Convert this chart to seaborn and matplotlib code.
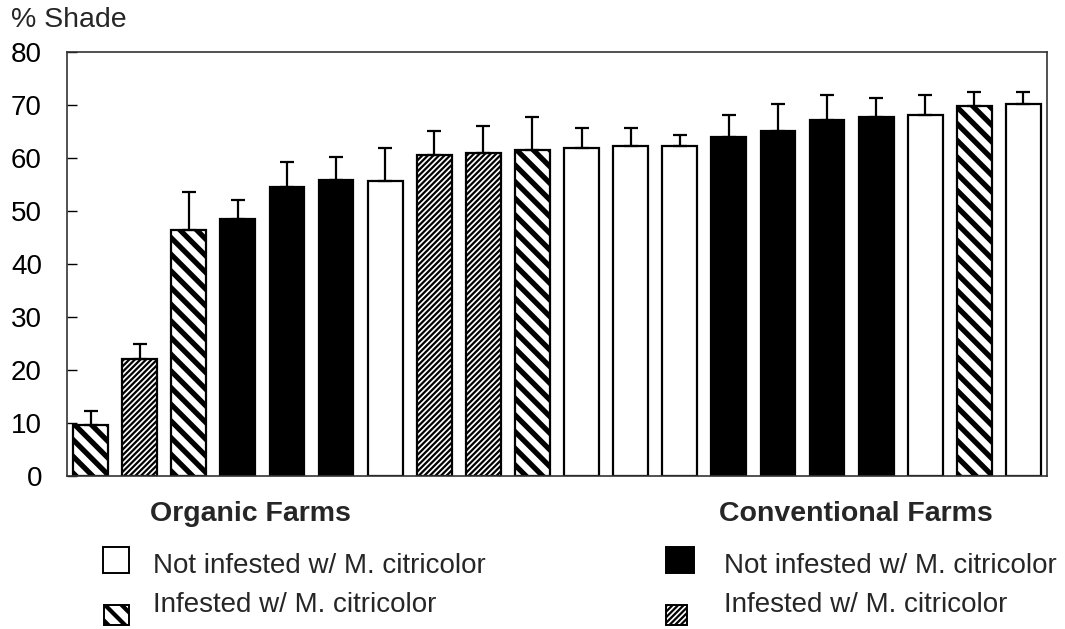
import matplotlib
matplotlib.use("Agg")
import matplotlib.pyplot as plt
import seaborn as sns
import numpy as np
import pandas as pd
from matplotlib.patches import Rectangle

# ---- data ----
farm_ids = list(range(1, 21))
shade_mean = [9.6, 22.1, 46.4, 48.4, 54.5, 55.8, 55.7, 60.5, 60.9, 61.6,
              61.9, 62.2, 62.2, 64.0, 65.0, 67.1, 67.7, 68.1, 69.8, 70.1]
shade_err_top = [12.3, 24.9, 53.5, 52.1, 59.2, 60.2, 61.9, 65.0, 66.0, 67.7,
                 65.7, 65.7, 64.3, 68.1, 70.1, 71.8, 71.4, 71.8, 72.5, 72.5]
# OU = organic not infested, OI = organic infested,
# CU = conventional not infested, CI = conventional infested
farm_group = ["OI", "CI", "OI", "CU", "CU", "CU", "OU", "CI", "CI", "OI",
              "OU", "OU", "OU", "CU", "CU", "CU", "CU", "OU", "OI", "OU"]
y_ticks = [0, 10, 20, 30, 40, 50, 60, 70, 80]
y_label = "% Shade"
legend_titles = ["Organic Farms", "Conventional Farms"]
legend_labels = ["Not infested w/ M. citricolor", "Infested w/ M. citricolor"]

styles = {
    "OU": dict(face="white", hatch="", hlw=1.0),
    "OI": dict(face="white", hatch="\\\\", hlw=3.8),
    "CU": dict(face="black", hatch="", hlw=1.0),
    "CI": dict(face="white", hatch="//////", hlw=1.6),
}

sns.set_style("white")
plt.rcParams["font.family"] = ["Liberation Sans", "DejaVu Sans"]

W, H = 1065, 629
fig = plt.figure(figsize=(W / 100, H / 100), dpi=100)
ax = fig.add_axes([67 / W, 1 - 476 / H, (1047 - 67) / W, (476 - 52) / H])

df = pd.DataFrame({"farm": farm_ids, "shade": shade_mean, "group": farm_group})
sns.barplot(data=df, x="farm", y="shade", color="white", width=0.71,
            edgecolor="black", linewidth=1.6, errorbar=None, ax=ax,
            order=farm_ids)

for patch, grp in zip(ax.patches, farm_group):
    st = styles[grp]
    patch.set_facecolor(st["face"])
    patch.set_edgecolor("black")
    patch.set_hatch(st["hatch"])
    try:
        patch.set_hatch_linewidth(st["hlw"])
    except AttributeError:
        pass

pos = np.arange(len(farm_ids))
upper = np.array(shade_err_top) - np.array(shade_mean)
ax.errorbar(pos, shade_mean, yerr=[np.zeros_like(upper), upper], fmt="none",
            ecolor="black", elinewidth=1.6, capsize=5, capthick=1.6, zorder=1)

ax.set_xlim(-0.48, len(farm_ids) - 0.52)
ax.set_ylim(0, 80)
ax.set_yticks(y_ticks)
ax.set_xticks([])
ax.set_xlabel("")
ax.set_ylabel("")
ax.tick_params(axis="y", direction="in", length=7, width=1, pad=18,
               labelsize=20, left=True, colors="black")
for sp in ax.spines.values():
    sp.set_visible(True)
    sp.set_color("#333333")
    sp.set_linewidth(1.2)

fig.text(11 / W, 1 - 20 / H, y_label, fontsize=20.5, va="center", ha="left")

# ---- legend ----
def fy(v):
    return 1 - v / H

def add_box(x0, y0, x1, y1, grp, scale):
    st = styles[grp]
    r = Rectangle((x0 / W, fy(y1)), (x1 - x0) / W, (y1 - y0) / H,
                  transform=fig.transFigure, facecolor=st["face"],
                  edgecolor="black", linewidth=1.4, hatch=st["hatch"])
    try:
        r.set_hatch_linewidth(st["hlw"] * scale)
    except AttributeError:
        pass
    fig.add_artist(r)

fs = 20
fig.text(150 / W, fy(520.7), legend_titles[0], fontsize=20.5, fontweight="bold", va="baseline")
fig.text(719 / W, fy(520.7), legend_titles[1], fontsize=20.5, fontweight="bold", va="baseline")
fig.text(153 / W, fy(572.7), legend_labels[0], fontsize=fs, va="baseline")
fig.text(153 / W, fy(611.7), legend_labels[1], fontsize=fs, va="baseline")
fig.text(724 / W, fy(572.7), legend_labels[0], fontsize=fs, va="baseline")
fig.text(724 / W, fy(611.7), legend_labels[1], fontsize=fs, va="baseline")

add_box(103, 547, 129, 573, "OU", 1.0)
add_box(104, 605, 129, 625, "OI", 0.8)
add_box(666, 547, 694, 573, "CU", 1.0)
add_box(666, 605, 687, 625, "CI", 1.0)

fig.savefig("out.png", dpi=100)
